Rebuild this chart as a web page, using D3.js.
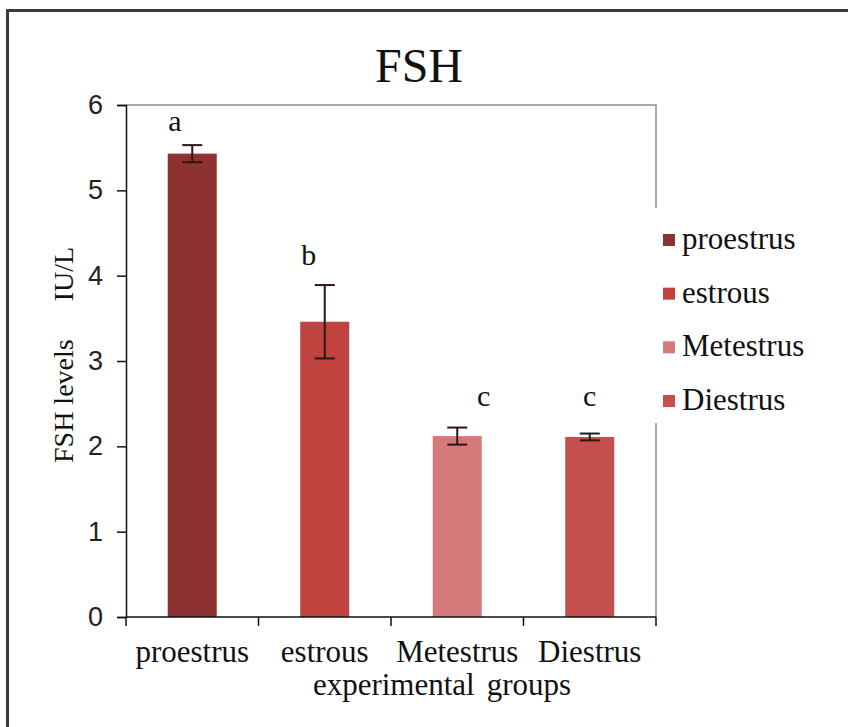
<!DOCTYPE html>
<html>
<head>
<meta charset="utf-8">
<script src="https://cdn.jsdelivr.net/npm/d3@7/dist/d3.min.js"></script>
<style>
  html, body { margin: 0; padding: 0; background: #fff; }
  svg { display: block; }
</style>
</head>
<body>
<svg id="chart" width="848" height="727"></svg>
<script>
// ---- data ----
const categories = ["proestrus", "estrous", "Metestrus", "Diestrus"];
const means      = [5.43, 3.46, 2.12, 2.11];
const errors     = [0.10, 0.43, 0.10, 0.04];
const letters    = ["a", "b", "c", "c"];
const colors     = ["#8E3131", "#C1433F", "#D47A79", "#C44F4F"];
const yTicks     = [0, 1, 2, 3, 4, 5, 6];
// significance-letter anchors (value units) and horizontal shifts (fraction of band step)
const letterValues = [5.70, 4.13, 2.47, 2.47];
const letterShift  = [-0.13, -0.12, 0.2, 0.0];

const svg = d3.select("#chart");
const serif = "'Liberation Serif', 'Times New Roman', serif";
const sans = "'Liberation Sans', Arial, sans-serif";

// outer frame
svg.append("rect")
  .attr("x", 7.5).attr("y", 10.5).attr("width", 900).attr("height", 800)
  .attr("fill", "none").attr("stroke", "#3a3a3a").attr("stroke-width", 3);

const plot = { left: 126, right: 656, top: 105, bottom: 617 };

const x = d3.scaleBand().domain(categories)
  .range([plot.left, plot.right]).paddingInner(0.63).paddingOuter(0.315);
const y = d3.scaleLinear().domain([0, 6]).range([plot.bottom, plot.top]);

// plot frame (top/right)
svg.append("path")
  .attr("d", `M${plot.left},${plot.top}H${plot.right}V${plot.bottom}`)
  .attr("fill", "none").attr("stroke", "#8c8c8c").attr("stroke-width", 1.5);

// bars
svg.append("g").selectAll("rect").data(categories).join("rect")
  .attr("x", d => x(d))
  .attr("y", (d, i) => y(means[i]))
  .attr("width", x.bandwidth())
  .attr("height", (d, i) => y(0) - y(means[i]))
  .attr("fill", (d, i) => colors[i]);

// error bars
const eb = svg.append("g").attr("stroke", "#2b1616").attr("stroke-width", 2);
categories.forEach((c, i) => {
  const cx = x(c) + x.bandwidth() / 2;
  const y1 = y(means[i] + errors[i]), y2 = y(means[i] - errors[i]);
  eb.append("line").attr("x1", cx).attr("x2", cx).attr("y1", y1).attr("y2", y2);
  eb.append("line").attr("x1", cx - 10).attr("x2", cx + 10).attr("y1", y1).attr("y2", y1);
  eb.append("line").attr("x1", cx - 10).attr("x2", cx + 10).attr("y1", y2).attr("y2", y2);
});

// significance letters
svg.append("g").selectAll("text").data(categories).join("text")
  .attr("x", (d, i) => x(d) + x.bandwidth() / 2 + letterShift[i] * x.step())
  .attr("y", (d, i) => y(letterValues[i]))
  .attr("text-anchor", "middle")
  .attr("font-family", serif).attr("font-size", 30).attr("fill", "#111")
  .text((d, i) => letters[i]);

// y axis
const yAxis = svg.append("g")
  .attr("transform", `translate(${plot.left},0)`)
  .call(d3.axisLeft(y).tickValues(yTicks).tickFormat(d3.format("d")).tickSize(9).tickPadding(14));
yAxis.select(".domain").attr("stroke", "#111").attr("stroke-width", 1.5);
yAxis.selectAll(".tick line").attr("stroke", "#111").attr("stroke-width", 1.5);
yAxis.selectAll(".tick text")
  .attr("font-family", sans).attr("font-size", 27).attr("fill", "#222");

// x axis
const xAxis = svg.append("g")
  .attr("transform", `translate(0,${plot.bottom})`)
  .call(d3.axisBottom(x).tickSize(0).tickPadding(0));
xAxis.select(".domain").remove();
xAxis.selectAll(".tick text")
  .attr("font-family", serif).attr("font-size", 31).attr("fill", "#111")
  .attr("dy", 0).attr("y", 45);
svg.append("line")
  .attr("x1", plot.left).attr("x2", plot.right)
  .attr("y1", plot.bottom).attr("y2", plot.bottom)
  .attr("stroke", "#111").attr("stroke-width", 1.5);
const bounds = [plot.left].concat(categories.map(c => x(c) + x.bandwidth() / 2 + x.step() / 2));
svg.append("g").selectAll("line").data(bounds).join("line")
  .attr("x1", d => d).attr("x2", d => d)
  .attr("y1", plot.bottom).attr("y2", plot.bottom + 9)
  .attr("stroke", "#111").attr("stroke-width", 1.5);

// axis titles
svg.append("text")
  .attr("x", 442).attr("y", 695).attr("text-anchor", "middle")
  .attr("font-family", serif).attr("font-size", 31).attr("fill", "#111")
  .text("experimental")
  .append("tspan").attr("dx", 12).text("groups");

const yl = svg.append("text")
  .attr("transform", "translate(73,463) rotate(-90)")
  .attr("font-family", serif).attr("font-size", 28).attr("fill", "#111")
  .text("FSH levels");
yl.append("tspan").attr("dx", 38).text("IU/L");

// title
svg.append("text")
  .attr("x", 419).attr("y", 82).attr("text-anchor", "middle")
  .attr("font-family", serif).attr("font-size", 48).attr("fill", "#111")
  .text("FSH");

// legend
const legend = svg.append("g");
legend.append("rect").attr("x", 650).attr("y", 208).attr("width", 175).attr("height", 215).attr("fill", "#fff");
const legendRowY = d3.scalePoint().domain(categories).range([240, 401]);
const items = legend.selectAll("g.item").data(categories).join("g").attr("class", "item")
  .attr("transform", d => `translate(663,${legendRowY(d)})`);
items.append("rect").attr("x", 0).attr("y", -6).attr("width", 12).attr("height", 12)
  .attr("fill", (d, i) => colors[i]);
items.append("text").attr("x", 19).attr("y", 9)
  .attr("font-family", serif).attr("font-size", 31).attr("fill", "#111")
  .text(d => d);
</script>
</body>
</html>
